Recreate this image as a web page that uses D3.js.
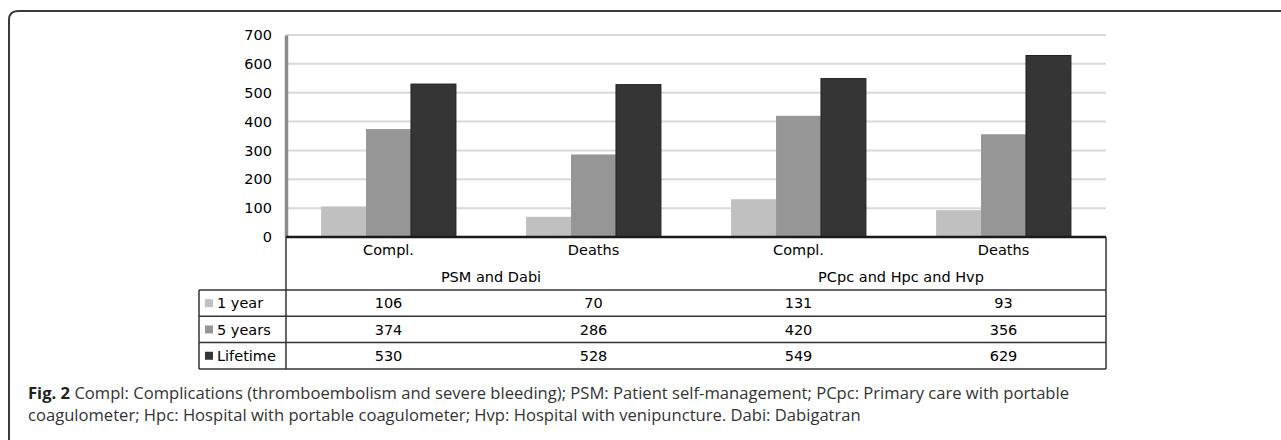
<!DOCTYPE html>
<html>
<head>
<meta charset="utf-8">
<script src="https://cdn.jsdelivr.net/npm/d3@7"></script>
<style>
  html, body { margin: 0; padding: 0; background: #fff; }
  svg { display: block; }
</style>
</head>
<body>
<div id="chart"></div>
<script>
// categories and series
const categories = ["Compl.", "Deaths", "Compl.", "Deaths"];
const groups = ["PSM and Dabi", "PCpc and Hpc and Hvp"];
const seriesNames = ["1 year", "5 years", "Lifetime"];
const oneYear = [106, 70, 131, 93];
const fiveYears = [374, 286, 420, 356];
const lifetime = [530, 528, 549, 629];
const yTicks = [0, 100, 200, 300, 400, 500, 600, 700];
const seriesColors = ["#c0c0c0", "#969696", "#353535"];

const series = [oneYear, fiveYears, lifetime];

const width = 1281, height = 440;
const plot = { left: 286, right: 1106, top: 35, bottom: 237 };
const table = { legendLeft: 199, catRow: 250, groupRow: 277, top: 290, rowH: 26.3 };
const chartFont = "'DejaVu Sans', Verdana, sans-serif";

const svg = d3.select("#chart").append("svg")
    .attr("width", width)
    .attr("height", height);

// frame with rounded top-left corner
svg.append("path")
    .attr("d", `M9,${height + 5} L9,20 Q9,11 18,11 L${width + 5},11`)
    .attr("fill", "none")
    .attr("stroke", "#3a3a3a")
    .attr("stroke-width", 2);

const x = d3.scaleBand()
    .domain(d3.range(categories.length))
    .range([plot.left, plot.right])
    .padding(0);

const xInner = d3.scaleBand()
    .domain(d3.range(series.length))
    .range([0, x.bandwidth()])
    .paddingInner(0)
    .paddingOuter(0.78);

const y = d3.scaleLinear()
    .domain([0, 700])
    .range([plot.bottom, plot.top]);

// gridlines
svg.append("g")
    .selectAll("line")
    .data(yTicks.filter(d => d > 0))
    .join("line")
    .attr("x1", plot.left)
    .attr("x2", plot.right)
    .attr("y1", d => y(d))
    .attr("y2", d => y(d))
    .attr("stroke", "#d8d8d8")
    .attr("stroke-width", 2);

// y axis
const yAxis = svg.append("g")
    .attr("transform", `translate(${plot.left},0)`)
    .call(d3.axisLeft(y).tickValues(yTicks).tickSize(0).tickPadding(14));
yAxis.select(".domain")
    .attr("stroke", "#8a8a8a")
    .attr("stroke-width", 3.5);
yAxis.selectAll("text")
    .attr("font-family", chartFont)
    .attr("font-size", 14.5)
    .attr("fill", "#000");

// bars
svg.append("g")
    .selectAll("g")
    .data(series)
    .join("g")
    .attr("fill", (d, i) => seriesColors[i])
    .selectAll("rect")
    .data((vals, si) => vals.map((v, ci) => ({ v, ci, si })))
    .join("rect")
    .attr("x", d => x(d.ci) + xInner(d.si))
    .attr("width", xInner.bandwidth())
    .attr("y", d => y(d.v))
    .attr("height", d => y(0) - y(d.v))
    .attr("stroke", d => d.si === 2 ? "#222" : "none")
    .attr("stroke-width", 1);

// baseline
svg.append("line")
    .attr("x1", plot.left)
    .attr("x2", plot.right)
    .attr("y1", plot.bottom)
    .attr("y2", plot.bottom)
    .attr("stroke", "#1a1a1a")
    .attr("stroke-width", 2.5);

// data table
const tableBottom = table.top + table.rowH * series.length;
const tbl = svg.append("g")
    .attr("stroke", "#333")
    .attr("stroke-width", 1.5);

tbl.append("line")
    .attr("x1", plot.left).attr("x2", plot.left)
    .attr("y1", plot.bottom).attr("y2", tableBottom);
tbl.append("line")
    .attr("x1", plot.right).attr("x2", plot.right)
    .attr("y1", plot.bottom).attr("y2", tableBottom);
tbl.append("line")
    .attr("x1", table.legendLeft).attr("x2", table.legendLeft)
    .attr("y1", table.top).attr("y2", tableBottom);
tbl.selectAll("line.row")
    .data(d3.range(series.length + 1))
    .join("line")
    .attr("class", "row")
    .attr("x1", table.legendLeft)
    .attr("x2", plot.right)
    .attr("y1", i => table.top + i * table.rowH)
    .attr("y2", i => table.top + i * table.rowH);

const textG = svg.append("g")
    .attr("font-family", chartFont)
    .attr("font-size", 14.5)
    .attr("fill", "#000");

// category labels
textG.selectAll("text.cat")
    .data(categories)
    .join("text")
    .attr("class", "cat")
    .attr("x", (d, i) => x(i) + x.bandwidth() / 2)
    .attr("y", table.catRow)
    .attr("dy", "0.35em")
    .attr("text-anchor", "middle")
    .text(d => d);

// group labels
textG.selectAll("text.grp")
    .data(groups)
    .join("text")
    .attr("class", "grp")
    .attr("x", (d, i) => x(i * 2) + x.bandwidth())
    .attr("y", table.groupRow)
    .attr("dy", "0.35em")
    .attr("text-anchor", "middle")
    .text(d => d);

// rows: legend key + values
series.forEach((vals, si) => {
    const cy = table.top + (si + 0.5) * table.rowH;
    svg.append("rect")
        .attr("x", table.legendLeft + 6)
        .attr("y", cy - 4)
        .attr("width", 8)
        .attr("height", 8)
        .attr("fill", seriesColors[si]);
    textG.append("text")
        .attr("x", table.legendLeft + 18)
        .attr("y", cy)
        .attr("dy", "0.35em")
        .text(seriesNames[si]);
    textG.selectAll(null)
        .data(vals)
        .join("text")
        .attr("x", (d, i) => x(i) + x.bandwidth() / 2)
        .attr("y", cy)
        .attr("dy", "0.35em")
        .attr("text-anchor", "middle")
        .text(d => d);
});

// caption
const caption = svg.append("text")
    .attr("font-family", "'Open Sans', 'Noto Sans', sans-serif")
    .attr("font-size", 16.6)
    .attr("fill", "#333");
const line1 = caption.append("tspan").attr("x", 28).attr("y", 399);
line1.append("tspan").attr("font-weight", "bold").attr("fill", "#222").text("Fig. 2");
line1.append("tspan").text(" Compl: Complications (thromboembolism and severe bleeding); PSM: Patient self-management; PCpc: Primary care with portable");
caption.append("tspan").attr("x", 28).attr("y", 421)
    .text("coagulometer; Hpc: Hospital with portable coagulometer; Hvp: Hospital with venipuncture. Dabi: Dabigatran");
</script>
</body>
</html>
